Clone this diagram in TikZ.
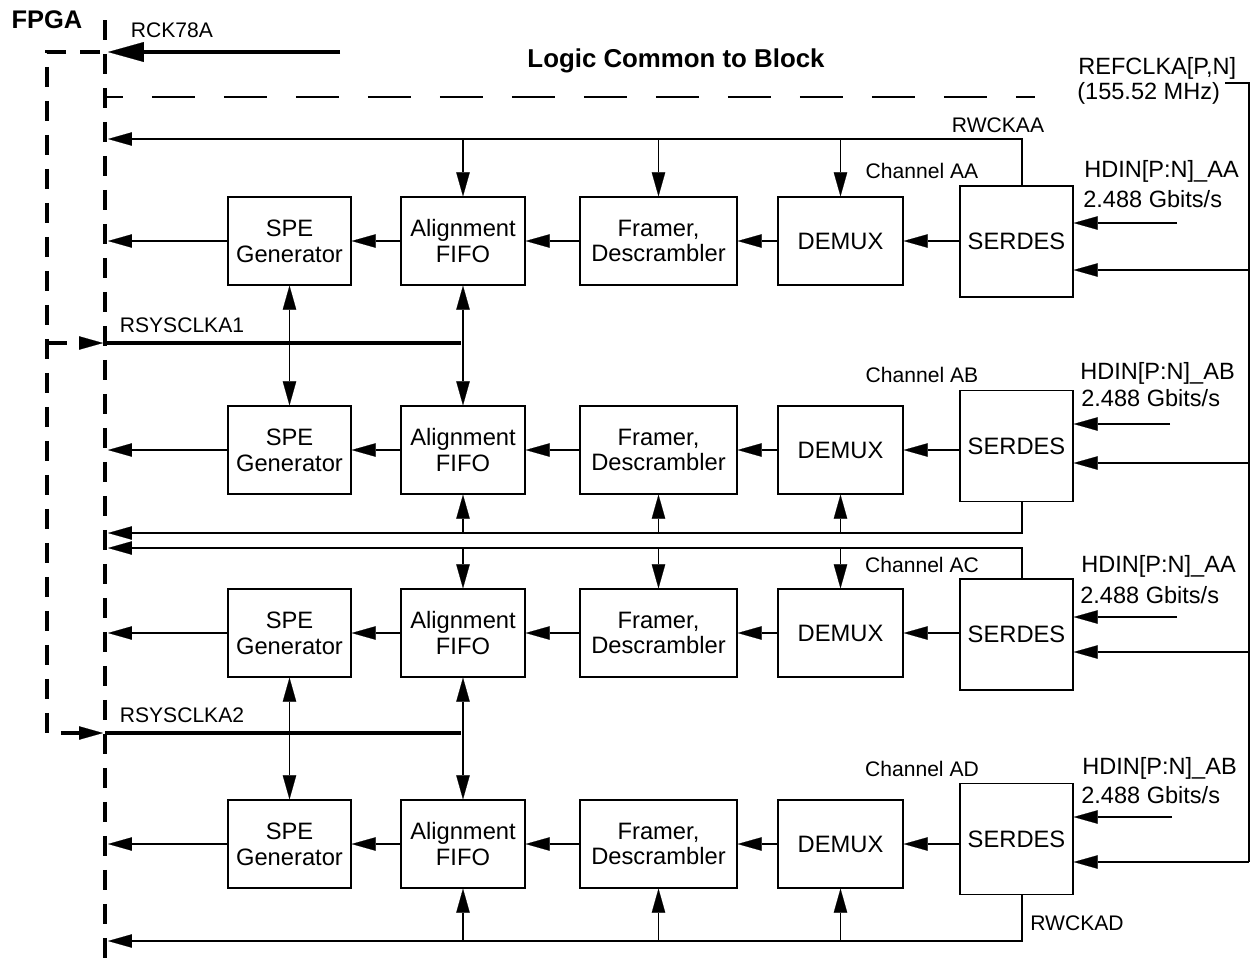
\documentclass[tikz,border=0pt]{standalone}
\usepackage{fontspec}
\setmainfont{Liberation Sans}
\usetikzlibrary{arrows.meta}
\begin{document}
\begin{tikzpicture}[x=0.02cm,y=-0.02cm,
  tip/.tip={Triangle[length=0.48cm,width=0.27cm,line width=0.1pt]},
  bigtip/.tip={Triangle[length=0.72cm,width=0.4cm,line width=0.1pt]},
  wire/.style={line width=0.75pt},
  arr/.style={line width=0.75pt,-tip},
  darr/.style={line width=0.75pt,tip-tip},
  blk/.style={draw,line width=0.75pt,inner sep=0pt,align=center,minimum height=1.76cm,font=\fontsize{13.5}{14.7}\selectfont},
  lbl/.style={inner sep=0pt,font=\fontsize{12}{14}\selectfont},
  hlbl/.style={inner sep=0pt,anchor=west,font=\fontsize{13.4}{15}\selectfont},
  ttl/.style={inner sep=0pt,font=\bfseries\fontsize{14.5}{16}\selectfont},
  fpgaline/.style={line width=2pt,dash pattern=on 0.4cm off 0.28cm},
  thick clk/.style={line width=2.3pt}
]
\useasboundingbox (0,0) rectangle (1252,961);

% FPGA boundary
\coordinate (fp) at (108,0);
\coordinate (fb0) at (105,20);
\coordinate (fb1) at (105,961);
\draw[fpgaline] (fb0) -- (fb1);

% outer dashed clock route
\coordinate (o0) at (100,52);
\coordinate (o1) at (47,52);
\coordinate (o2) at (47,733);
\coordinate (o3) at (103,733);
\coordinate (o4) at (47,343);
\coordinate (o5) at (103,343);
\draw[fpgaline,-tip] (o0) -- (o1) -- (o2) -- (o3);
\draw[fpgaline,-tip] (o4) -- (o5);

% titles
\node[ttl] (fpgal) at (47,20) {FPGA};
\node[ttl,font=\bfseries\fontsize{14.7}{16}\selectfont] (lcb) at (676,61) {Logic Common to Block};
\node[lbl] (rckl) at (172,30) {RCK78A};

% RCK78A
\coordinate (rk0) at (340,52);
\coordinate (rk1) at (108,52);
\draw[thick clk,-bigtip] (rk0) -- (rk1);

% thin dashed line
\coordinate (dl0) at (105,97);
\coordinate (dl1) at (1035,97);
\draw[wire,dash pattern=on 0.86cm off 0.58cm,dash phase=0.5cm] (dl0) -- (dl1);

% REFCLK labels
\node[hlbl] (refa) at (1078,68) {REFCLKA[P,N]};
\node[hlbl] (refb) at (1077,93) {(155.52 MHz)};

% rows
\foreach \r/\y/\sy/\hy/\hx/\ry in {1/241/241.5/223/1177/270, 2/450/446/424/1170/463, 3/633/634.5/617/1177/652, 4/844/839/817/1172/862}{
  \node[blk,minimum width=2.46cm] (spe\r) at (289.5,\y) {SPE\\Generator};
  \node[blk,minimum width=2.48cm] (fifo\r) at (463,\y) {Alignment\\FIFO};
  \node[blk,minimum width=3.14cm] (fr\r) at (658.5,\y) {Framer,\\Descrambler};
  \node[blk,minimum width=2.5cm] (dm\r) at (840.5,\y) {DEMUX};
  \node[blk,minimum width=2.26cm,minimum height=2.22cm] (sd\r) at (1016.5,\sy) {SERDES};
  \draw[arr] (sd\r.west |- dm\r.east) -- (dm\r.east);
  \draw[arr] (dm\r.west) -- (fr\r.east);
  \draw[arr] (fr\r.west) -- (fifo\r.east);
  \draw[arr] (fifo\r.west) -- (spe\r.east);
  \draw[arr] (spe\r.west) -- (spe\r.west -| fp);
  \coordinate (h\r) at (\hx,\hy);
  \draw[arr] (h\r) -- (h\r -| sd\r.east);
  \coordinate (rf\r) at (1249,\ry);
  \draw[arr] (rf\r) -- (rf\r -| sd\r.east);
}

% reference clock trunk
\coordinate (rc0) at (1225,83);
\coordinate (rc1) at (1249,83);
\draw[wire] (rc0) -- (rc1) -- (rf4);

% channel / HDIN labels
\node[lbl] (cha) at (922,171) {Channel AA};
\node[lbl] (chb) at (922,375) {Channel AB};
\node[lbl] (chc) at (922,565) {Channel AC};
\node[lbl] (chd) at (922,769) {Channel AD};
\node[hlbl] (hda) at (1084,171) {HDIN[P:N]\_AA};
\node[hlbl] (hra) at (1083,199) {2.488 Gbits/s};
\node[hlbl] (hdb) at (1080,373) {HDIN[P:N]\_AB};
\node[hlbl] (hrb) at (1081,398) {2.488 Gbits/s};
\node[hlbl] (hdc) at (1081,566) {HDIN[P:N]\_AA};
\node[hlbl] (hrc) at (1080,595) {2.488 Gbits/s};
\node[hlbl] (hdd) at (1082,768) {HDIN[P:N]\_AB};
\node[hlbl] (hrd) at (1081,795) {2.488 Gbits/s};

% recovered clock buses
\coordinate (wa) at (1022,139);
\coordinate (wb) at (1022,533);
\coordinate (wc) at (1022,548);
\coordinate (wd) at (1022,941);
\draw[arr] (sd1.north -| wa) -- (wa) -- (wa -| fp);
\draw[arr] (sd2.south -| wb) -- (wb) -- (wb -| fp);
\draw[arr] (sd3.north -| wc) -- (wc) -- (wc -| fp);
\draw[arr] (sd4.south -| wd) -- (wd) -- (wd -| fp);
\foreach \b in {fifo,fr,dm}{
  \draw[arr] (\b1.north |- wa) -- (\b1.north);
  \draw[arr] (\b2.south |- wb) -- (\b2.south);
  \draw[arr] (\b3.north |- wc) -- (\b3.north);
  \draw[arr] (\b4.south |- wd) -- (\b4.south);
}
\node[lbl] (rwa) at (998,125) {RWCKAA};
\node[lbl] (rwd) at (1077,923) {RWCKAD};

% system clocks
\coordinate (s1a) at (105,343);
\coordinate (s1b) at (461,343);
\coordinate (s2a) at (105,733);
\coordinate (s2b) at (461,733);
\draw[thick clk] (s1a) -- (s1b);
\draw[thick clk] (s2a) -- (s2b);
\node[lbl] (rs1) at (182,325) {RSYSCLKA1};
\node[lbl] (rs2) at (182,715) {RSYSCLKA2};
\draw[darr] (spe1.south) -- (spe2.north);
\draw[darr] (fifo1.south) -- (fifo2.north);
\draw[darr] (spe3.south) -- (spe4.north);
\draw[darr] (fifo3.south) -- (fifo4.north);
\end{tikzpicture}
\end{document}
